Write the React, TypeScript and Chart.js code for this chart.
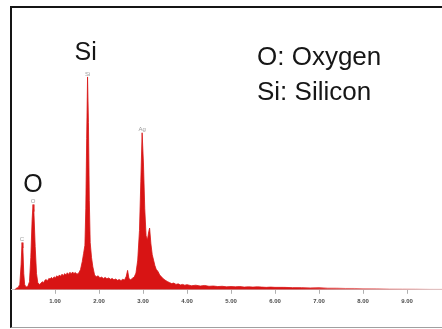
import { useEffect, useRef } from 'react';
import { Chart, registerables } from 'chart.js';

Chart.register(...registerables);

// Energy (keV) of each sample of the spectrum
const energies = [
  0.09, 0.12, 0.16, 0.2, 0.23, 0.25, 0.27, 0.29, 0.31, 0.34,
  0.38, 0.42, 0.45, 0.48, 0.5, 0.52, 0.55, 0.58, 0.61, 0.65,
  0.68, 0.71, 0.74, 0.77, 0.8, 0.83, 0.86, 0.89, 0.92, 0.95,
  0.98, 1.01, 1.04, 1.07, 1.1, 1.13, 1.16, 1.19, 1.22, 1.25,
  1.28, 1.31, 1.34, 1.37, 1.4, 1.43, 1.46, 1.5, 1.54, 1.58,
  1.62, 1.65, 1.68, 1.7, 1.72, 1.74, 1.76, 1.78, 1.8, 1.83,
  1.86, 1.9, 1.94, 1.98, 2.02, 2.06, 2.1, 2.14, 2.18, 2.22,
  2.26, 2.3, 2.34, 2.38, 2.42, 2.46, 2.5, 2.54, 2.58, 2.62,
  2.65, 2.68, 2.72, 2.76, 2.8, 2.84, 2.88, 2.92, 2.95, 2.98,
  3.01, 3.04, 3.07, 3.1, 3.13, 3.15, 3.18, 3.21, 3.24, 3.27,
  3.3, 3.34, 3.38, 3.42, 3.46, 3.5, 3.55, 3.6, 3.65, 3.7,
  3.75, 3.8, 3.85, 3.9, 3.95, 4.0, 4.1, 4.2, 4.3, 4.4,
  4.5, 4.6, 4.7, 4.8, 4.9, 5.0, 5.1, 5.2, 5.3, 5.4,
  5.5, 5.6, 5.7, 5.8, 5.9, 6.0, 6.2, 6.4, 6.6, 6.8,
  7.0, 7.2, 7.4, 7.6, 7.8, 8.0, 8.3, 8.6, 8.9, 9.2,
  9.5, 9.8, 10.2, 10.5,
];

// Counts at each energy
const counts = [
  0, 6, 8, 20, 95, 175, 155, 60, 20, 10,
  12, 30, 120, 260, 316, 290, 160, 60, 25, 20,
  24, 30, 26, 35, 38, 33, 42, 40, 46, 41,
  48, 44, 52, 47, 55, 50, 58, 52, 60, 55,
  63, 57, 65, 59, 66, 60, 64, 58, 62, 75,
  105, 135, 165, 300, 560, 789, 620, 330, 175, 120,
  85, 55, 48, 52, 44, 47, 42, 46, 41, 44,
  39, 42, 37, 40, 35, 38, 34, 39, 36, 50,
  72, 42, 37, 43, 47, 62, 110, 220, 400, 582,
  470, 300, 200, 185, 215, 229, 170, 130, 110, 90,
  76, 68, 55, 48, 41, 36, 31, 27, 23, 25,
  20, 22, 18, 20, 17, 19, 15, 17, 14, 16,
  13, 14, 12, 13, 11, 12, 11, 12, 10, 11,
  10, 11, 10, 9, 10, 9, 9, 8, 8, 7,
  8, 6, 6, 5, 5, 4, 4, 3, 3, 3,
  2, 2, 2, 1,
];

const tickValues = [1, 2, 3, 4, 5, 6, 7, 8, 9, 10];

// Small element markers above peaks
const peakNames = ['C', 'O', 'Si', 'Ag'];
const peakEnergies = [0.25, 0.5, 1.74, 2.98];
const peakHeights = [175, 316, 789, 582];

// Large element labels
const bigLabelNames = ['O', 'Si'];
const bigLabelEnergies = [0.52, 1.72];
const bigLabelHeights = [316, 789];

const legendLines = ['O: Oxygen', 'Si: Silicon'];

const RED = '#d81414';
const PINK = '#f3c0c0';

const textPlugin = {
  id: 'edsText',
  afterDatasetsDraw(chart: any) {
    const { ctx, scales } = chart;
    const xs = scales.x;
    const ys = scales.y;
    ctx.save();
    // small peak markers
    ctx.font = '6px "Liberation Sans", Arial, sans-serif';
    ctx.fillStyle = '#9a9a9a';
    ctx.textAlign = 'center';
    ctx.textBaseline = 'bottom';
    peakNames.forEach((n, i) => {
      const x = xs.getPixelForValue(peakEnergies[i]);
      const y = ys.getPixelForValue(peakHeights[i]);
      ctx.fillText(n, x, y);
    });
    // big labels
    ctx.font = '25px "Liberation Sans", Arial, sans-serif';
    ctx.fillStyle = '#161616';
    ctx.textBaseline = 'alphabetic';
    bigLabelNames.forEach((n, i) => {
      const x = xs.getPixelForValue(bigLabelEnergies[i]);
      const y = ys.getPixelForValue(bigLabelHeights[i]);
      ctx.fillText(n, x - 1, y - 13 - (i === 1 ? 4 : 0));
    });
    // legend text
    ctx.font = '26px "Liberation Sans", Arial, sans-serif';
    ctx.textAlign = 'left';
    legendLines.forEach((t, i) => {
      ctx.fillText(t, 257, 65 + i * 35);
    });
    ctx.restore();
  },
};

export default function App() {
  const canvasRef = useRef<HTMLCanvasElement | null>(null);

  useEffect(() => {
    const canvas = canvasRef.current;
    if (!canvas) return;
    const data = energies.map((e, i) => ({ x: e, y: counts[i] }));
    const fillColor = (c: any) => {
      const chart = c.chart;
      if (!chart.chartArea) return RED;
      const xs = chart.scales.x;
      const g = chart.ctx.createLinearGradient(xs.getPixelForValue(6.5), 0, xs.getPixelForValue(9.6), 0);
      g.addColorStop(0, RED);
      g.addColorStop(1, PINK);
      return g;
    };
    const chart = new Chart(canvas, {
      type: 'line',
      data: {
        datasets: [
          {
            data,
            fill: 'origin',
            backgroundColor: fillColor,
            borderColor: fillColor,
            borderWidth: 0.8,
            pointRadius: 0,
            tension: 0,
          },
        ],
      },
      options: {
        animation: false,
        responsive: false,
        maintainAspectRatio: false,
        layout: { padding: { left: 11, right: 0, top: 20, bottom: 20 } },
        plugins: { legend: { display: false }, tooltip: { enabled: false }, title: { display: false } },
        scales: {
          x: {
            type: 'linear',
            min: 0,
            max: 10.5,
            afterBuildTicks: (scale: any) => {
              scale.ticks = tickValues.map((v) => ({ value: v }));
            },
            ticks: {
              autoSkip: false,
              maxRotation: 0,
              padding: 4,
              color: '#4a4a4a',
              font: { size: 6, weight: 'bold', family: '"Liberation Sans", Arial' },
              callback: (v: any) => Number(v).toFixed(2),
            },
            grid: { drawOnChartArea: false, drawTicks: true, tickLength: 4, color: '#b0b0b0' },
            border: { display: true, color: '#c4c4c4', width: 1 },
          },
          y: {
            type: 'linear',
            min: 0,
            max: 1000,
            display: false,
          },
        },
      },
      plugins: [textPlugin],
    });
    return () => chart.destroy();
  }, []);

  return (
    <div
      style={{
        position: 'fixed',
        left: 0,
        top: 0,
        width: 442,
        height: 329,
        overflow: 'hidden',
        background: '#ffffff',
      }}
    >
      <div
        style={{
          position: 'absolute',
          left: 10,
          top: 6,
          width: 480,
          height: 322,
          boxSizing: 'border-box',
          borderTop: '2px solid #151515',
          borderLeft: '2px solid #151515',
          borderBottom: '1px solid #a0a0a0',
        }}
      />
      <canvas
        ref={canvasRef}
        width={473}
        height={329}
        style={{ position: 'absolute', left: 0, top: 0, width: 473, height: 329 }}
      />
    </div>
  );
}
